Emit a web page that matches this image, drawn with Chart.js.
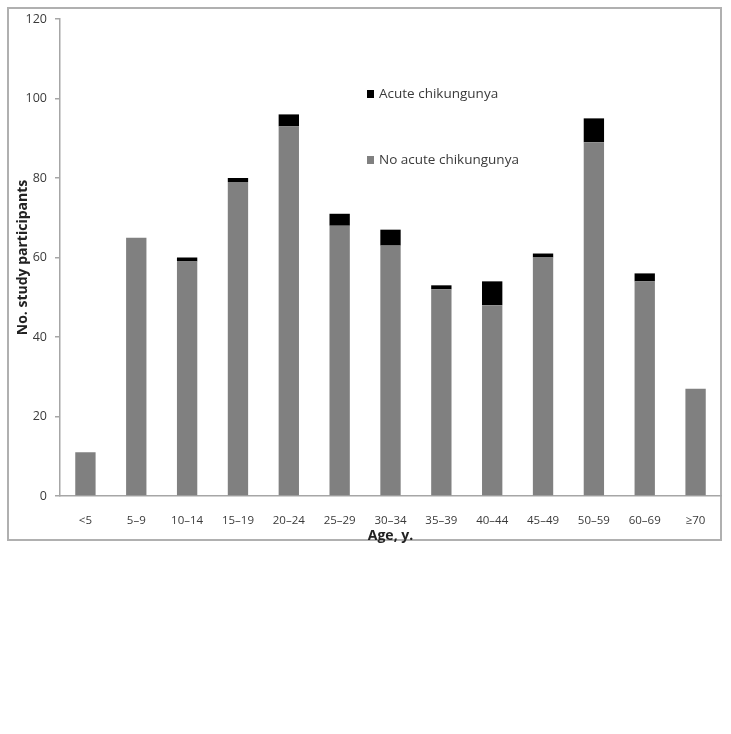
<!DOCTYPE html>
<html lang="en">
<head>
  <meta charset="UTF-8" />
  <title>Study participants by age</title>
  <script src="https://cdn.jsdelivr.net/npm/chart.js"></script>
  <style>
    html, body { margin: 0; padding: 0; background: #fff; overflow: hidden; }
    #chartAge { display: block; }
  </style>
</head>
<body>
  <canvas id="chartAge" width="731" height="734"></canvas>

<script>
  // age groups and counts
  var ageGroups = ["<5", "5–9", "10–14", "15–19", "20–24", "25–29", "30–34", "35–39", "40–44", "45–49", "50–59", "60–69", "≥70"];
  var noAcute   = [11, 65, 59, 79, 93, 68, 63, 52, 48, 60, 89, 54, 27];
  var acute     = [0, 0, 1, 1, 3, 3, 4, 1, 6, 1, 6, 2, 0];
  var yTicks    = [0, 20, 40, 60, 80, 100, 120];

  var textColor = '#3a3a3a';
  var axisColor = '#a6a6a6';

  // outer frame around the figure
  var framePlugin = {
    id: 'frame',
    beforeDraw: function (chart) {
      var c = chart.ctx;
      c.save();
      c.fillStyle = '#fff';
      c.fillRect(0, 0, chart.width, chart.height);
      c.strokeStyle = '#b0b0b0';
      c.lineWidth = 2;
      c.strokeRect(8, 8, 713, 532);
      c.restore();
    }
  };

  // legend drawn inside the plot like the original
  var innerLegend = {
    id: 'innerLegend',
    afterDraw: function (chart) {
      var c = chart.ctx;
      var items = [chart.data.datasets[1], chart.data.datasets[0]]; // acute on top
      var rows = [94, 160];
      c.save();
      c.font = '13.5px "Open Sans", sans-serif';
      c.textBaseline = 'middle';
      items.forEach(function (ds, i) {
        c.fillStyle = ds.backgroundColor;
        c.fillRect(367, rows[i] - 4, 7, 8);
        c.fillStyle = textColor;
        c.fillText(ds.label, 379, rows[i]);
      });
      c.restore();
    }
  };

  var ctxAge = document.getElementById("chartAge").getContext("2d");
  var configAge = {
    type: 'bar',
    data: {
      labels: ageGroups,
      datasets: [
        {
          label: 'No acute chikungunya',
          data: noAcute,
          backgroundColor: '#808080',
          barPercentage: 0.4,
          categoryPercentage: 1.0
        },
        {
          label: 'Acute chikungunya',
          data: acute,
          backgroundColor: '#000000',
          barPercentage: 0.4,
          categoryPercentage: 1.0
        }
      ]
    },
    options: {
      responsive: false,
      animation: false,
      devicePixelRatio: 1,
      layout: { padding: { left: 12, top: 19, right: 10, bottom: 187 } },
      plugins: {
        legend: { display: false },
        tooltip: { enabled: false }
      },
      scales: {
        x: {
          stacked: true,
          grid: { display: false },
          border: { display: true, color: axisColor, width: 1.5 },
          ticks: {
            color: textColor,
            font: { family: '"Open Sans", sans-serif', size: 11.5 },
            padding: 10,
            maxRotation: 0,
            autoSkip: false
          },
          title: {
            display: true,
            text: 'Age, y.',
            color: '#222',
            font: { family: '"Open Sans", sans-serif', size: 14, weight: 'bold' },
            padding: { top: 0, bottom: 3 }
          },
          afterFit: function (s) { s.height = 51; }
        },
        y: {
          stacked: true,
          min: 0,
          max: 120,
          afterBuildTicks: function (s) {
            s.ticks = yTicks.map(function (v) { return { value: v }; });
          },
          grid: {
            drawOnChartArea: false,
            drawTicks: true,
            tickLength: 5,
            color: axisColor,
            lineWidth: 1.5
          },
          border: { display: true, color: axisColor, width: 1.5 },
          ticks: {
            color: textColor,
            font: { family: '"Open Sans", sans-serif', size: 12.5 },
            padding: 8
          },
          title: {
            display: true,
            text: 'No. study participants',
            color: '#222',
            font: { family: '"Open Sans", sans-serif', size: 14, weight: 'bold' },
            padding: { top: 3, bottom: 0 }
          },
          afterFit: function (s) { s.width = 48; }
        }
      }
    },
    plugins: [framePlugin, innerLegend]
  };
  var chartAge = new Chart(ctxAge, configAge);
</script>
</body>
</html>
